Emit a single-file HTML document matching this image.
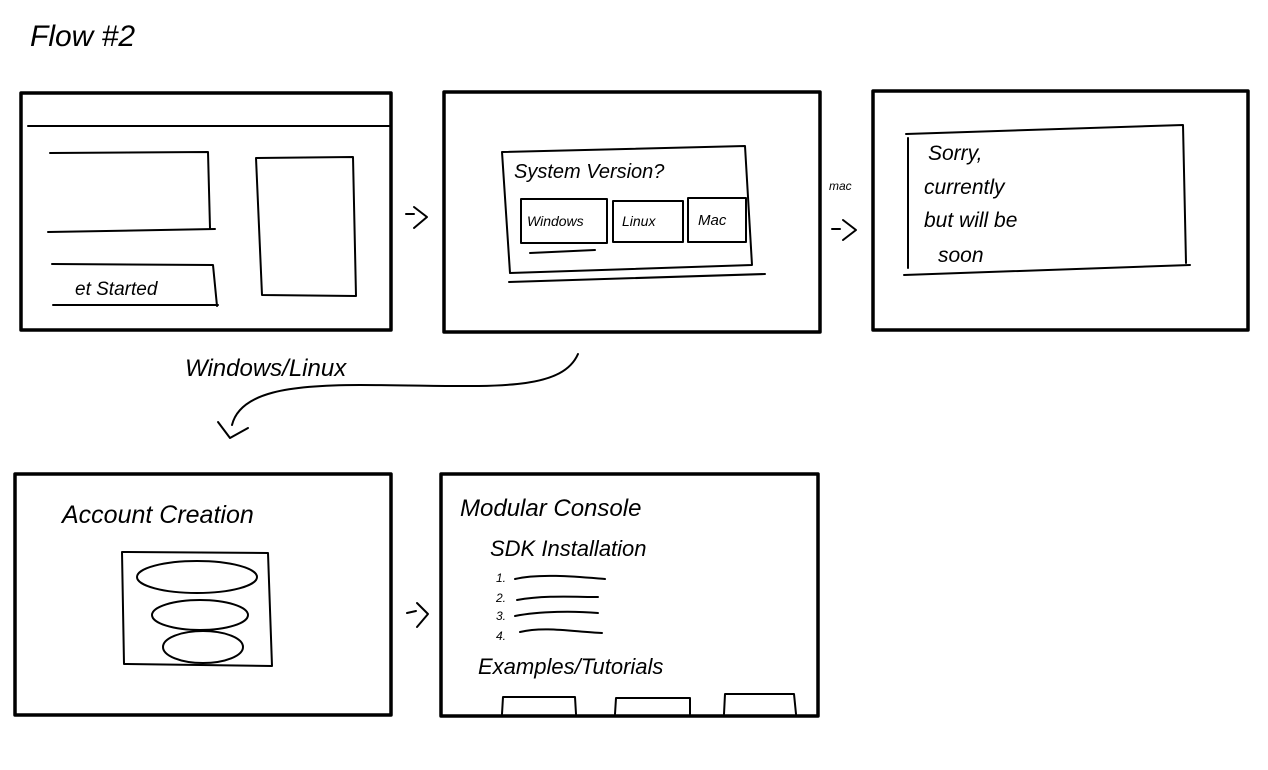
<!DOCTYPE html>
<html><head><meta charset="utf-8"><style>
html,body{margin:0;padding:0;background:#fff;}
svg{display:block}
text{font-family:"Liberation Sans",sans-serif;fill:#000;}
</style></head><body>
<svg width="1268" height="770" viewBox="0 0 1268 770" xmlns="http://www.w3.org/2000/svg">
<g fill="none" stroke="#000" stroke-linecap="round" stroke-linejoin="round">
<!-- main frames -->
<rect x="21" y="93" width="370" height="237" stroke-width="3.5"/>
<rect x="444" y="92" width="376" height="240" stroke-width="3.5"/>
<rect x="873" y="91" width="375" height="239" stroke-width="3.5"/>
<rect x="15" y="474" width="376" height="241" stroke-width="3.5"/>
<rect x="441" y="474" width="377" height="242" stroke-width="3.5"/>
<g stroke-width="2">
<!-- frame1 contents -->
<path d="M28 126 L389 126"/>
<path d="M50 153 L208 152 L210 228 M48 232 L215 229"/>
<path d="M256 158 L353 157 L356 296 L262 295 Z"/>
<path d="M52 264 L213 265 L217 306 M53 305 L218 305"/>
<!-- arrows -->
<path d="M406 214 L414 214 M414 207 L427 217 L414 228"/>
<path d="M832 229 L840 229 M843 220 L856 230 L843 240"/>
<path d="M407 613 L416 611 M417 603 L428 614 L417 627"/>
<!-- frame2 -->
<path d="M502 152 L745 146 L752 265 L510 273 Z"/>
<path d="M509 282 L765 274"/>
<rect x="521" y="199" width="86" height="44"/>
<rect x="613" y="201" width="70" height="41"/>
<rect x="688" y="198" width="58" height="44"/>
<path d="M530 253 L595 250"/>
<!-- frame3 -->
<path d="M906 134 L1183 125 L1186 263"/>
<path d="M908 138 L908 268"/>
<path d="M904 275 L1190 265"/>
<!-- curved arrow -->
<path d="M578 354 C560 395 480 385 360 385 C290 385 240 392 232 425"/>
<path d="M218 422 L230 438 L248 428"/>
<!-- frame4 -->
<path d="M122 552 L268 553 L272 666 L124 664 Z"/>
<ellipse cx="197" cy="577" rx="60" ry="16"/>
<ellipse cx="200" cy="615" rx="48" ry="15"/>
<ellipse cx="203" cy="647" rx="40" ry="16"/>
<!-- frame5 list -->
<path d="M515 579 C540 573 580 577 605 579"/>
<path d="M517 600 C545 595 575 597 598 597"/>
<path d="M515 616 C540 611 575 611 598 613"/>
<path d="M520 632 C545 626 575 632 602 633"/>
<path d="M502 714 L503 697 L575 697 L576 714"/>
<path d="M615 714 L616 698 L690 698 L690 714"/>
<path d="M724 714 L725 694 L794 694 L796 714"/>
</g>
</g>
<g font-style="italic">
<text x="30" y="46" font-size="30">Flow #2</text>
<text x="75" y="295" font-size="19">et Started</text>
<text x="514" y="178" font-size="20">System   Version?</text>
<text x="527" y="226" font-size="14">Windows</text>
<text x="622" y="226" font-size="14">Linux</text>
<text x="698" y="225" font-size="15">Mac</text>
<text x="829" y="190" font-size="12">mac</text>
<text x="928" y="160" font-size="21">Sorry,</text>
<text x="924" y="194" font-size="21">currently</text>
<text x="924" y="227" font-size="21">but will be</text>
<text x="938" y="262" font-size="21">soon</text>
<text x="185" y="376" font-size="24">Windows/Linux</text>
<text x="62" y="523" font-size="25">Account Creation</text>
<text x="460" y="516" font-size="24">Modular Console</text>
<text x="490" y="556" font-size="22">SDK Installation</text>
<text x="496" y="582" font-size="12">1.</text>
<text x="496" y="602" font-size="12">2.</text>
<text x="496" y="620" font-size="12">3.</text>
<text x="496" y="640" font-size="12">4.</text>
<text x="478" y="674" font-size="22">Examples/Tutorials</text>
</g>
</svg>
</body></html>
